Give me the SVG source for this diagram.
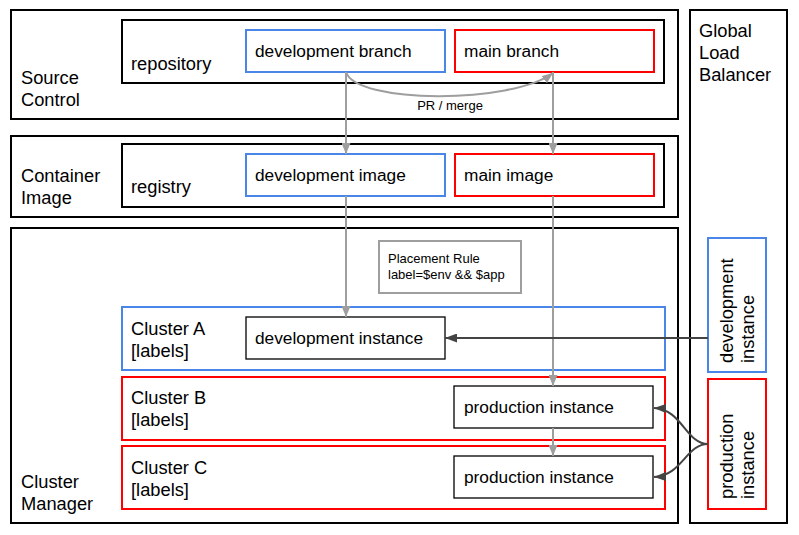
<svg xmlns="http://www.w3.org/2000/svg" width="799" height="535" viewBox="0 0 799 535">
<style>
text{font-family:"Liberation Sans",Arial,sans-serif;fill:#000}
.lbl{font-size:18.3px}
.nt{font-size:17.3px}
.sm{font-size:13px}
.box{fill:#fff;stroke:#000;stroke-width:2}
.blue{fill:#fff;stroke:#4a86e8;stroke-width:2}
.red{fill:#fff;stroke:#ff0000;stroke-width:2}
.inst{fill:#fff;stroke:#000;stroke-width:1.3}
.gray{fill:none;stroke:#9e9e9e;stroke-width:2}
.dark{fill:none;stroke:#444;stroke-width:2}
</style>
<defs>
<marker id="ag" markerUnits="userSpaceOnUse" markerWidth="11" markerHeight="9" refX="11" refY="4.5" orient="auto">
<path d="M0,0 L11,4.5 L0,9 z" fill="#9e9e9e"/>
</marker>
<marker id="ad" markerUnits="userSpaceOnUse" markerWidth="12" markerHeight="9" refX="12" refY="4.5" orient="auto">
<path d="M0,0 L12,4.5 L0,9 z" fill="#444"/>
</marker>
</defs>
<rect width="799" height="535" fill="#fff"/>

<g id="source-control">
<rect class="box" x="11" y="10" width="667" height="109"/>
<text class="lbl" x="21" y="84">Source</text>
<text class="lbl" x="21" y="106">Control</text>
</g>
<g id="repository">
<rect class="box" x="122" y="20" width="542" height="63"/>
<text class="lbl" x="131" y="70">repository</text>
</g>
<g id="dev-branch">
<rect class="blue" x="246" y="30" width="199" height="42"/>
<text class="nt" x="255" y="57">development branch</text>
</g>
<g id="main-branch">
<rect class="red" x="455" y="30" width="199" height="42"/>
<text class="nt" x="464" y="57">main branch</text>
</g>

<g id="container-image">
<rect class="box" x="11" y="136" width="667" height="81"/>
<text class="lbl" x="21" y="182">Container</text>
<text class="lbl" x="21" y="204">Image</text>
</g>
<g id="registry">
<rect class="box" x="122" y="144" width="542" height="63"/>
<text class="lbl" x="131" y="193">registry</text>
</g>
<g id="dev-image">
<rect class="blue" x="246" y="154" width="199" height="42"/>
<text class="nt" x="255" y="181">development image</text>
</g>
<g id="main-image">
<rect class="red" x="455" y="154" width="199" height="42"/>
<text class="nt" x="464" y="181">main image</text>
</g>

<g id="cluster-manager">
<rect class="box" x="11" y="228" width="667" height="295"/>
<text class="lbl" x="21" y="488">Cluster</text>
<text class="lbl" x="21" y="510">Manager</text>
</g>
<g id="placement-rule">
<rect x="379" y="241" width="142" height="52" fill="#fff" stroke="#9e9e9e" stroke-width="2"/>
<text class="sm" x="388" y="263">Placement Rule</text>
<text class="sm" x="388" y="279">label=$env &amp;&amp; $app</text>
</g>
<g id="cluster-a">
<rect class="blue" x="122" y="307" width="543" height="63"/>
<text class="lbl" x="131" y="335">Cluster A</text>
<text class="lbl" x="131" y="357">[labels]</text>
</g>
<g id="dev-instance">
<rect class="inst" x="246" y="317" width="199" height="42"/>
<text class="nt" x="255" y="344">development instance</text>
</g>
<g id="cluster-b">
<rect class="red" x="122" y="377" width="543" height="63"/>
<text class="lbl" x="131" y="404">Cluster B</text>
<text class="lbl" x="131" y="426">[labels]</text>
</g>
<g id="prod-instance-b">
<rect class="inst" x="454" y="386" width="199" height="42"/>
<text class="nt" x="464" y="413">production instance</text>
</g>
<g id="cluster-c">
<rect class="red" x="122" y="446" width="543" height="63"/>
<text class="lbl" x="131" y="474">Cluster C</text>
<text class="lbl" x="131" y="496">[labels]</text>
</g>
<g id="prod-instance-c">
<rect class="inst" x="454" y="456" width="199" height="42"/>
<text class="nt" x="464" y="483">production instance</text>
</g>

<g id="global-load-balancer">
<rect class="box" x="690" y="10" width="97" height="513"/>
<text class="lbl" x="699" y="37">Global</text>
<text class="lbl" x="699" y="59">Load</text>
<text class="lbl" x="699" y="81">Balancer</text>
</g>
<g id="glb-dev-instance">
<rect class="blue" x="708" y="238" width="58" height="134"/>
<text class="lbl" transform="translate(733,363) rotate(-90)">development</text>
<text class="lbl" transform="translate(754,363) rotate(-90)">instance</text>
</g>
<g id="glb-prod-instance">
<rect class="red" x="708" y="379" width="58" height="130"/>
<text class="lbl" transform="translate(733,499) rotate(-90)">production</text>
<text class="lbl" transform="translate(754,499) rotate(-90)">instance</text>
</g>

<g id="connectors">
<path class="gray" d="M346,72 V154" marker-end="url(#ag)"/>
<path class="gray" d="M553,72 V154" marker-end="url(#ag)"/>
<path class="gray" d="M346,72 C356,104 512,104 553,73" marker-end="url(#ag)"/>
<text class="sm" x="450" y="110" text-anchor="middle">PR / merge</text>
<path class="gray" d="M346,196 V317" marker-end="url(#ag)"/>
<path class="gray" d="M553,196 V386" marker-end="url(#ag)"/>
<path class="gray" d="M553,428 V456" marker-end="url(#ag)"/>
<path class="dark" d="M708,338 H445" marker-end="url(#ad)"/>
<path class="dark" d="M708,444 C686,444 682,409 654,408" marker-end="url(#ad)"/>
<path class="dark" d="M708,444 C686,444 682,476 654,477" marker-end="url(#ad)"/>
</g>
</svg>
